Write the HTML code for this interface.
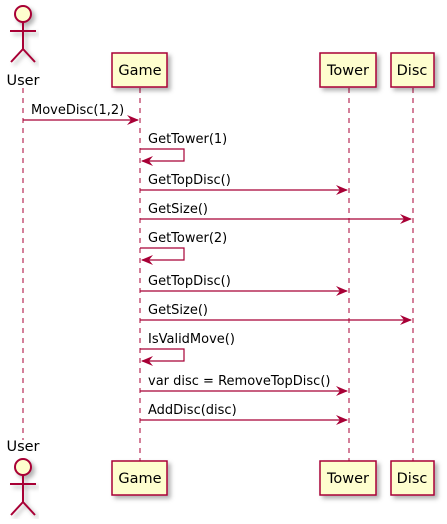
<!DOCTYPE html><html><head><style>body{margin:0;background:#fff}</style></head><body>
<svg width="447" height="519" xmlns="http://www.w3.org/2000/svg" font-family="'DejaVu Sans','Liberation Sans',sans-serif" font-size="13">
<defs><filter id="s"><feDropShadow dx="3" dy="3" stdDeviation="2" flood-color="#000" flood-opacity="0.3"/></filter></defs>
<g stroke="#A80036" stroke-dasharray="5,5" stroke-width="1">
<line x1="23" y1="88" x2="23" y2="440"/><line x1="140" y1="88" x2="140" y2="461"/>
<line x1="349" y1="88" x2="349" y2="461"/><line x1="413" y1="88" x2="413" y2="461"/></g>
<g fill="#FEFECE" stroke="#A80036" stroke-width="1.5" filter="url(#s)">
<rect x="112" y="53" width="55" height="34"/><rect x="320" y="53" width="56" height="34"/><rect x="391" y="53" width="43" height="34"/>
<rect x="112" y="461" width="55" height="34"/><rect x="320" y="461" width="56" height="34"/><rect x="391" y="461" width="43" height="34"/>
</g>
<g fill="#000" font-size="14.5" text-anchor="middle">
<text x="140" y="75">Game</text><text x="348" y="75">Tower</text><text x="412" y="75">Disc</text>
<text x="140" y="483">Game</text><text x="348" y="483">Tower</text><text x="412" y="483">Disc</text>
<text x="23" y="85">User</text><text x="23" y="451">User</text></g>
<g stroke="#A80036" stroke-width="2" fill="none" filter="url(#s)">
<circle cx="23" cy="14" r="8" fill="#FEFECE"/><path d="M23 22V49M10 31H36M23 49L11 62M23 49L35 62"/>
<circle cx="23" cy="467" r="8" fill="#FEFECE"/><path d="M23 475V502M10 484H36M23 502L11 515M23 502L35 515"/>
</g>
<g stroke="#A80036" stroke-width="1.2" fill="none">
<line x1="23" y1="120" x2="138" y2="120"/>
<path d="M140 149H184V161H142"/>
<line x1="140" y1="190" x2="347" y2="190"/>
<line x1="140" y1="219" x2="411" y2="219"/>
<path d="M140 248H184V260H142"/>
<line x1="140" y1="291" x2="347" y2="291"/>
<line x1="140" y1="320" x2="411" y2="320"/>
<path d="M140 349H184V361H142"/>
<line x1="140" y1="391" x2="347" y2="391"/>
<line x1="140" y1="420" x2="347" y2="420"/>
</g>
<g fill="#A80036">
<path d="M139 120l-12-5 4 5-4 5z"/>
<path d="M141 161l12-5-4 5 4 5z"/><path d="M141 260l12-5-4 5 4 5z"/><path d="M141 361l12-5-4 5 4 5z"/>
<path d="M348 190l-12-5 4 5-4 5z"/><path d="M348 291l-12-5 4 5-4 5z"/><path d="M348 391l-12-5 4 5-4 5z"/><path d="M348 420l-12-5 4 5-4 5z"/>
<path d="M412 219l-12-5 4 5-4 5z"/><path d="M412 320l-12-5 4 5-4 5z"/>
</g>
<g fill="#000">
<text x="31" y="114">MoveDisc(1,2)</text>
<text x="148" y="143">GetTower(1)</text>
<text x="148" y="184">GetTopDisc()</text>
<text x="148" y="213">GetSize()</text>
<text x="148" y="242">GetTower(2)</text>
<text x="148" y="285">GetTopDisc()</text>
<text x="148" y="314">GetSize()</text>
<text x="148" y="343">IsValidMove()</text>
<text x="148" y="385">var disc = RemoveTopDisc()</text>
<text x="148" y="414">AddDisc(disc)</text>
</g>
</svg></body></html>
